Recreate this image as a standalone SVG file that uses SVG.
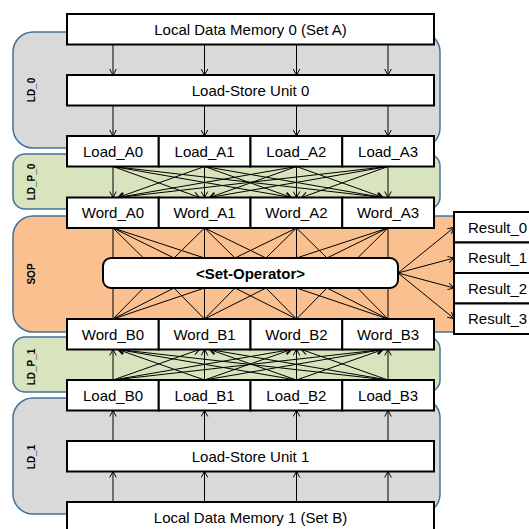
<svg xmlns="http://www.w3.org/2000/svg" width="529" height="529" viewBox="0 0 529 529">
  <style>
    .box { fill: #ffffff; stroke: #000000; stroke-width: 2; }
    .lbl { font-family: "Liberation Sans", Arial, sans-serif; font-size: 15px; fill: #000000; text-anchor: middle; }
    .res { font-family: "Liberation Sans", Arial, sans-serif; font-size: 15px; fill: #000000; }
    .bold { font-weight: bold; }
    .side { font-family: "Liberation Sans", Arial, sans-serif; font-size: 10px; font-weight: bold; fill: #000000; text-anchor: middle; }
    .stage { stroke: #41719c; stroke-width: 1.5; }
    .gray { fill: #d9d9d9; }
    .green { fill: #d7e4bd; }
    .orange { fill: #fac090; }
    .wire { stroke: #000000; stroke-width: 1; fill: none; }
    .arrow { marker-end: url(#ah); }
  </style>
  <defs>
    <marker id="ah" viewBox="-7 -4 8 8" refX="0" refY="0" markerWidth="8" markerHeight="8" markerUnits="userSpaceOnUse" orient="auto">
      <path d="M-6,-3.3 L0,0 L-6,3.3" fill="none" stroke="#000000" stroke-width="1"/>
    </marker>
  </defs>

  <!-- pipeline stage backgrounds -->
  <g id="stages">
    <rect class="stage gray" x="13" y="32" width="427" height="116" rx="20" ry="20"/>
    <rect class="stage green" x="13" y="154" width="427" height="55" rx="12" ry="12"/>
    <rect class="stage orange" x="13" y="216" width="460" height="116" rx="20" ry="20"/>
    <rect class="stage green" x="13" y="337" width="427" height="55" rx="12" ry="12"/>
    <rect class="stage gray" x="13" y="398" width="427" height="116" rx="20" ry="20"/>
    <text class="side" transform="translate(35,90) rotate(-90)">LD_0</text>
    <text class="side" transform="translate(35,182) rotate(-90)">LD_P_0</text>
    <text class="side" transform="translate(35,274) rotate(-90)">SOP</text>
    <text class="side" transform="translate(35,367) rotate(-90)">LD_P_1</text>
    <text class="side" transform="translate(35,457) rotate(-90)">LD_1</text>
  </g>

  <!-- connectors -->
  <g id="connectors" class="wire">
    <!-- memory 0 -> load-store unit 0 -> load registers -->
    <g class="arrow">
      <line x1="113" y1="44.5" x2="113" y2="75"/>
      <line x1="204.5" y1="44.5" x2="204.5" y2="75"/>
      <line x1="296.5" y1="44.5" x2="296.5" y2="75"/>
      <line x1="388" y1="44.5" x2="388" y2="75"/>
      <line x1="113" y1="105.5" x2="113" y2="136"/>
      <line x1="204.5" y1="105.5" x2="204.5" y2="136"/>
      <line x1="296.5" y1="105.5" x2="296.5" y2="136"/>
      <line x1="388" y1="105.5" x2="388" y2="136"/>
    </g>
    <!-- load A -> word A crossbar -->
    <g class="arrow">
      <line x1="113" y1="166.5" x2="113" y2="197.5"/>
      <line x1="113" y1="166.5" x2="199.5" y2="197.5"/>
      <line x1="113" y1="166.5" x2="291.5" y2="197.5"/>
      <line x1="113" y1="166.5" x2="383" y2="197.5"/>
      <line x1="204.5" y1="166.5" x2="118" y2="197.5"/>
      <line x1="204.5" y1="166.5" x2="204.5" y2="197.5"/>
      <line x1="204.5" y1="166.5" x2="291.5" y2="197.5"/>
      <line x1="204.5" y1="166.5" x2="383" y2="197.5"/>
      <line x1="296.5" y1="166.5" x2="118" y2="197.5"/>
      <line x1="296.5" y1="166.5" x2="209.5" y2="197.5"/>
      <line x1="296.5" y1="166.5" x2="296.5" y2="197.5"/>
      <line x1="296.5" y1="166.5" x2="383" y2="197.5"/>
      <line x1="388" y1="166.5" x2="118" y2="197.5"/>
      <line x1="388" y1="166.5" x2="209.5" y2="197.5"/>
      <line x1="388" y1="166.5" x2="301.5" y2="197.5"/>
      <line x1="388" y1="166.5" x2="388" y2="197.5"/>
    </g>
    <!-- word A -> set operator -->
    <line x1="113" y1="228" x2="113" y2="258"/>
    <line x1="113" y1="228" x2="143.5" y2="258"/>
    <line x1="113" y1="228" x2="174" y2="258"/>
    <line x1="113" y1="228" x2="204.5" y2="258"/>
    <line x1="204.5" y1="228" x2="174" y2="258"/>
    <line x1="204.5" y1="228" x2="204.5" y2="258"/>
    <line x1="204.5" y1="228" x2="235" y2="258"/>
    <line x1="204.5" y1="228" x2="266" y2="258"/>
    <line x1="296.5" y1="228" x2="235" y2="258"/>
    <line x1="296.5" y1="228" x2="266" y2="258"/>
    <line x1="296.5" y1="228" x2="296.5" y2="258"/>
    <line x1="296.5" y1="228" x2="327" y2="258"/>
    <line x1="388" y1="228" x2="296.5" y2="258"/>
    <line x1="388" y1="228" x2="327" y2="258"/>
    <line x1="388" y1="228" x2="357.5" y2="258"/>
    <line x1="388" y1="228" x2="388" y2="258"/>
    <!-- word B -> set operator -->
    <line x1="113" y1="319" x2="113" y2="288"/>
    <line x1="113" y1="319" x2="143.5" y2="288"/>
    <line x1="113" y1="319" x2="174" y2="288"/>
    <line x1="113" y1="319" x2="204.5" y2="288"/>
    <line x1="204.5" y1="319" x2="174" y2="288"/>
    <line x1="204.5" y1="319" x2="204.5" y2="288"/>
    <line x1="204.5" y1="319" x2="235" y2="288"/>
    <line x1="204.5" y1="319" x2="266" y2="288"/>
    <line x1="296.5" y1="319" x2="235" y2="288"/>
    <line x1="296.5" y1="319" x2="266" y2="288"/>
    <line x1="296.5" y1="319" x2="296.5" y2="288"/>
    <line x1="296.5" y1="319" x2="327" y2="288"/>
    <line x1="388" y1="319" x2="296.5" y2="288"/>
    <line x1="388" y1="319" x2="327" y2="288"/>
    <line x1="388" y1="319" x2="357.5" y2="288"/>
    <line x1="388" y1="319" x2="388" y2="288"/>
    <!-- set operator -> results -->
    <g class="arrow">
      <line x1="398" y1="273" x2="454" y2="227.5"/>
      <line x1="398" y1="273" x2="454" y2="258"/>
      <line x1="398" y1="273" x2="454" y2="288"/>
      <line x1="398" y1="273" x2="454" y2="318.5"/>
    </g>
    <!-- load B -> word B crossbar -->
    <g class="arrow">
      <line x1="113" y1="380" x2="113" y2="349.5"/>
      <line x1="113" y1="380" x2="199.5" y2="349.5"/>
      <line x1="113" y1="380" x2="291.5" y2="349.5"/>
      <line x1="113" y1="380" x2="383" y2="349.5"/>
      <line x1="204.5" y1="380" x2="118" y2="349.5"/>
      <line x1="204.5" y1="380" x2="204.5" y2="349.5"/>
      <line x1="204.5" y1="380" x2="291.5" y2="349.5"/>
      <line x1="204.5" y1="380" x2="383" y2="349.5"/>
      <line x1="296.5" y1="380" x2="118" y2="349.5"/>
      <line x1="296.5" y1="380" x2="209.5" y2="349.5"/>
      <line x1="296.5" y1="380" x2="296.5" y2="349.5"/>
      <line x1="296.5" y1="380" x2="383" y2="349.5"/>
      <line x1="388" y1="380" x2="118" y2="349.5"/>
      <line x1="388" y1="380" x2="209.5" y2="349.5"/>
      <line x1="388" y1="380" x2="301.5" y2="349.5"/>
      <line x1="388" y1="380" x2="388" y2="349.5"/>
    </g>
    <!-- memory 1 -> load-store unit 1 -> load registers -->
    <g class="arrow">
      <line x1="113" y1="502" x2="113" y2="471.5"/>
      <line x1="204.5" y1="502" x2="204.5" y2="471.5"/>
      <line x1="296.5" y1="502" x2="296.5" y2="471.5"/>
      <line x1="388" y1="502" x2="388" y2="471.5"/>
      <line x1="113" y1="441" x2="113" y2="410.5"/>
      <line x1="204.5" y1="441" x2="204.5" y2="410.5"/>
      <line x1="296.5" y1="441" x2="296.5" y2="410.5"/>
      <line x1="388" y1="441" x2="388" y2="410.5"/>
    </g>
  </g>

  <!-- nodes -->
  <g id="ldm0"><rect class="box" x="67" y="14" width="367" height="30.5"/><text class="lbl" x="250.5" y="34.5">Local Data Memory 0 (Set A)</text></g>
  <g id="lsu0"><rect class="box" x="67" y="75" width="367" height="30.5"/><text class="lbl" x="250.5" y="95.5">Load-Store Unit 0</text></g>

  <g id="load_a0"><rect class="box" x="67" y="136" width="91.75" height="30.5"/><text class="lbl" x="113" y="156.5">Load_A0</text></g>
  <g id="load_a1"><rect class="box" x="158.75" y="136" width="91.75" height="30.5"/><text class="lbl" x="204.6" y="156.5">Load_A1</text></g>
  <g id="load_a2"><rect class="box" x="250.5" y="136" width="91.75" height="30.5"/><text class="lbl" x="296.4" y="156.5">Load_A2</text></g>
  <g id="load_a3"><rect class="box" x="342.25" y="136" width="91.75" height="30.5"/><text class="lbl" x="388.1" y="156.5">Load_A3</text></g>

  <g id="word_a0"><rect class="box" x="67" y="197.5" width="91.75" height="30.5"/><text class="lbl" x="113" y="218">Word_A0</text></g>
  <g id="word_a1"><rect class="box" x="158.75" y="197.5" width="91.75" height="30.5"/><text class="lbl" x="204.6" y="218">Word_A1</text></g>
  <g id="word_a2"><rect class="box" x="250.5" y="197.5" width="91.75" height="30.5"/><text class="lbl" x="296.4" y="218">Word_A2</text></g>
  <g id="word_a3"><rect class="box" x="342.25" y="197.5" width="91.75" height="30.5"/><text class="lbl" x="388.1" y="218">Word_A3</text></g>

  <g id="set_operator"><rect class="box" x="103" y="258" width="295" height="30" rx="8" ry="8"/><text class="lbl bold" x="250.5" y="278.5">&lt;Set-Operator&gt;</text></g>

  <g id="result_0"><rect class="box" x="454" y="212" width="100" height="30.5"/><text class="res" x="468" y="232.5">Result_0</text></g>
  <g id="result_1"><rect class="box" x="454" y="242.5" width="100" height="30.5"/><text class="res" x="468" y="263">Result_1</text></g>
  <g id="result_2"><rect class="box" x="454" y="273" width="100" height="30.5"/><text class="res" x="468" y="293.5">Result_2</text></g>
  <g id="result_3"><rect class="box" x="454" y="303.5" width="100" height="30.5"/><text class="res" x="468" y="324">Result_3</text></g>

  <g id="word_b0"><rect class="box" x="67" y="319" width="91.75" height="30.5"/><text class="lbl" x="113" y="339.5">Word_B0</text></g>
  <g id="word_b1"><rect class="box" x="158.75" y="319" width="91.75" height="30.5"/><text class="lbl" x="204.6" y="339.5">Word_B1</text></g>
  <g id="word_b2"><rect class="box" x="250.5" y="319" width="91.75" height="30.5"/><text class="lbl" x="296.4" y="339.5">Word_B2</text></g>
  <g id="word_b3"><rect class="box" x="342.25" y="319" width="91.75" height="30.5"/><text class="lbl" x="388.1" y="339.5">Word_B3</text></g>

  <g id="load_b0"><rect class="box" x="67" y="380" width="91.75" height="30.5"/><text class="lbl" x="113" y="400.5">Load_B0</text></g>
  <g id="load_b1"><rect class="box" x="158.75" y="380" width="91.75" height="30.5"/><text class="lbl" x="204.6" y="400.5">Load_B1</text></g>
  <g id="load_b2"><rect class="box" x="250.5" y="380" width="91.75" height="30.5"/><text class="lbl" x="296.4" y="400.5">Load_B2</text></g>
  <g id="load_b3"><rect class="box" x="342.25" y="380" width="91.75" height="30.5"/><text class="lbl" x="388.1" y="400.5">Load_B3</text></g>

  <g id="lsu1"><rect class="box" x="67" y="441" width="367" height="30.5"/><text class="lbl" x="250.5" y="461.5">Load-Store Unit 1</text></g>
  <g id="ldm1"><rect class="box" x="67" y="502" width="367" height="30.5"/><text class="lbl" x="250.5" y="522.5">Local Data Memory 1 (Set B)</text></g>
</svg>
